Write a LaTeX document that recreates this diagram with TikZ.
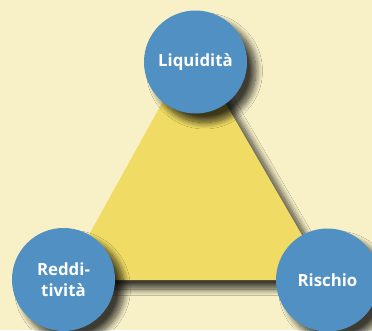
\documentclass[tikz,border=0pt]{standalone}
\usepackage{fontspec}
\setmainfont{Open Sans}
\usetikzlibrary{shadows.blur}
\definecolor{bg}{RGB}{248,241,200}
\definecolor{tri}{RGB}{240,220,100}
\definecolor{ball}{RGB}{80,144,194}
\begin{document}
\begin{tikzpicture}[x=1pt,y=-1pt,
  softshadow/.style={blur shadow={shadow xshift=9pt, shadow yshift=-9pt, shadow blur radius=6.5pt, shadow blur steps=12, shadow blur extra rounding=0pt, shadow opacity=75}},
  ballnode/.style={circle, fill=ball, minimum size=103pt, inner sep=0pt, text=white,
    font=\bfseries\fontsize{16.8}{21}\selectfont, align=center, softshadow}]
\useasboundingbox[fill=bg] (0,0) rectangle (372,330);
\coordinate (apex) at (193,47);
\coordinate (bl) at (64,280);
\coordinate (br) at (328,280);
\fill[tri, softshadow] (apex) -- (bl) -- (br) -- cycle;
\node[ballnode] (liq) at (195.5,62) {Liquidità};
\node[ballnode] (red) at (63.5,279.5) {Reddi-\\tività};
\node[ballnode] (ris) at (327.5,280) {Rischio};
\end{tikzpicture}
\end{document}
